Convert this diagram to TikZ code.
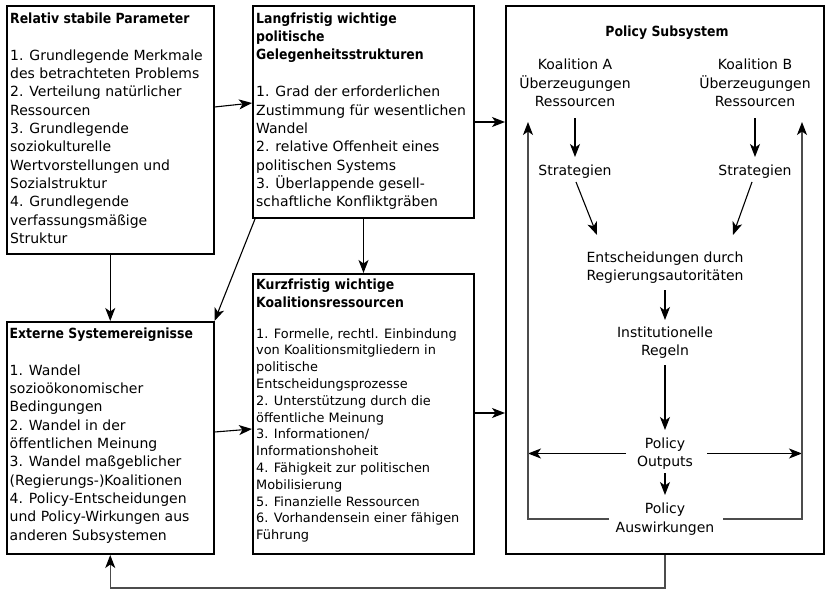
\documentclass[tikz,border=0pt]{standalone}
\usepackage{fontspec}
\setmainfont{DejaVu Sans}
\newfontfamily\ttlf{DejaVu Sans}[FakeStretch=0.89]
\usetikzlibrary{arrows.meta,calc}
\begin{document}
\begin{tikzpicture}[x=1pt,y=-1pt,
  box/.style={draw, line width=2pt, anchor=north west, inner sep=0pt},
  ttl/.style={anchor=north west, align=left, inner sep=0pt, font=\fontsize{14}{18.3}\selectfont\ttlf\bfseries},
  lst/.style={anchor=north west, align=left, inner sep=0pt, font=\fontsize{14}{18.3}\selectfont},
  lsts/.style={anchor=north west, align=left, inner sep=0pt, font=\fontsize{12.9}{16.8}\selectfont},
  ctr/.style={align=center, inner sep=0pt, font=\fontsize{14}{18.3}\selectfont},
  arr/.style={-{Stealth[length=13pt,width=10pt,inset=3.5pt,color=black]}, line width=1.1pt},
  loopl/.style={line width=1.2pt, draw=black!70},
]
\fill[white] (0,0) rectangle (825,589);
\useasboundingbox (0,0) rectangle (825,589);

% boxes
\node[box, minimum width=206.5pt, minimum height=248pt] (b1) at (6,5) {};
\node[box, minimum width=221pt, minimum height=212pt] (b2) at (252,5) {};
\node[box, minimum width=206.5pt, minimum height=232pt] (b3) at (6,321) {};
\node[box, minimum width=221pt, minimum height=280pt] (b4) at (252,273) {};
\node[box, minimum width=318pt, minimum height=548pt] (b5) at (505,5) {};

% box 1
\node[ttl] (t1) at ($(b1.north west)+(4,7.5)$) {Relativ stabile Parameter};
\node[lst] (l1) at ($(b1.north west)+(4,44.5)$) {1. Grundlegende Merkmale\\des betrachteten Problems\\2. Verteilung natürlicher\\Ressourcen\\3. Grundlegende\\soziokulturelle\\Wertvorstellungen und\\Sozialstruktur\\4. Grundlegende\\verfassungsmäßige\\Struktur};

% box 2
\node[ttl] (t2) at ($(b2.north west)+(4,7.5)$) {Langfristig wichtige\\politische\\Gelegenheitsstrukturen};
\node[lst] (l2) at ($(b2.north west)+(4,81)$) {1. Grad der erforderlichen\\Zustimmung für wesentlichen\\Wandel\\2. relative Offenheit eines\\politischen Systems\\3. Überlappende gesell-\\schaftliche Konfliktgräben};

% box 3
\node[ttl] (t3) at ($(b3.north west)+(3.5,6.5)$) {Externe Systemereignisse};
\node[lst] (l3) at ($(b3.north west)+(3.5,43.5)$) {1. Wandel\\sozioökonomischer\\Bedingungen\\2. Wandel in der\\öffentlichen Meinung\\3. Wandel maßgeblicher\\(Regierungs-)Koalitionen\\4. Policy-Entscheidungen\\und Policy-Wirkungen aus\\anderen Subsystemen};

% box 4
\node[ttl] (t4) at ($(b4.north west)+(4,5.5)$) {Kurzfristig wichtige\\Koalitionsressourcen};
\node[lsts] (l4) at ($(b4.north west)+(4,55)$) {1. Formelle, rechtl. Einbindung\\von Koalitionsmitgliedern in\\politische\\Entscheidungsprozesse\\2. Unterstützung durch die\\öffentliche Meinung\\3. Informationen/\\Informationshoheit\\4. Fähigkeit zur politischen\\Mobilisierung\\5. Finanzielle Ressourcen\\6. Vorhandensein einer fähigen\\Führung};

% policy subsystem
\node[ctr, font=\fontsize{14}{18.3}\selectfont\ttlf\bfseries] (ps) at (667,33) {Policy Subsystem};
\node[ctr] (kA) at (575,83) {Koalition A\\Überzeugungen\\Ressourcen};
\node[ctr] (kB) at (755,83) {Koalition B\\Überzeugungen\\Ressourcen};
\node[ctr] (sA) at (575,172) {Strategien};
\node[ctr] (sB) at (755,172) {Strategien};
\node[ctr] (ent) at (665,267.5) {Entscheidungen durch\\Regierungsautoritäten};
\node[ctr] (inst) at (665,342.5) {Institutionelle\\Regeln};
\node[ctr] (out) at (665,453.5) {Policy\\Outputs};
\node[ctr] (ausw) at (665,519) {Policy\\Auswirkungen};

\coordinate (lb) at (528,519);
\coordinate (rb) at (802,519);
\coordinate (lt) at (528,122);
\coordinate (rt) at (802,122);

% inner arrows
\draw[arr] ($(kA.center)+(0,35)$) -- ($(sA.center)+(0,-15)$);
\draw[arr] ($(kB.center)+(0,35)$) -- ($(sB.center)+(0,-15)$);
\draw[arr] ($(sA.center)+(1,10)$) -- ($(ent.center)+(-68,-32.5)$);
\draw[arr] ($(sB.center)+(-3,10)$) -- ($(ent.center)+(68,-32.5)$);
\draw[arr] ($(ent.center)+(0,22.5)$) -- ($(inst.center)+(0,-22.5)$);
\draw[arr] ($(inst.center)+(0,22.5)$) -- ($(out.center)+(0,-23.5)$);
\draw[arr] ($(out.center)+(-39,0)$) -- (lt |- out.center);
\draw[arr] ($(out.center)+(42,0)$) -- (rt |- out.center);
\draw[arr] ($(out.center)+(0,19.5)$) -- ($(ausw.center)+(0,-24)$);
\draw[loopl, arr] ($(ausw.center)+(-56,0)$) -- (lb) -- (lt);
\draw[loopl, arr] ($(ausw.center)+(58,0)$) -- (rb) -- (rt);

% outer arrows
\draw[arr] ($(b1.north east)+(0,102)$) -- ($(b2.north west)+(0,98)$);
\draw[arr] (b1.south) -- (b3.north);
\draw[arr] ($(b2.south west)+(3,0)$) -- (b3.north east);
\draw[arr] (b2.south) -- (b4.north);
\draw[arr] ($(b2.north east)+(0,117)$) -- ($(b5.north west)+(0,117)$);
\draw[arr] ($(b3.north east)+(0,111)$) -- ($(b4.north west)+(0,156)$);
\draw[arr] ($(b4.north east)+(0,140)$) -- ($(b5.north west)+(0,408)$);
\draw[loopl, arr] (b5.south) -- ++(0,33) -| (b3.south);
\end{tikzpicture}
\end{document}
